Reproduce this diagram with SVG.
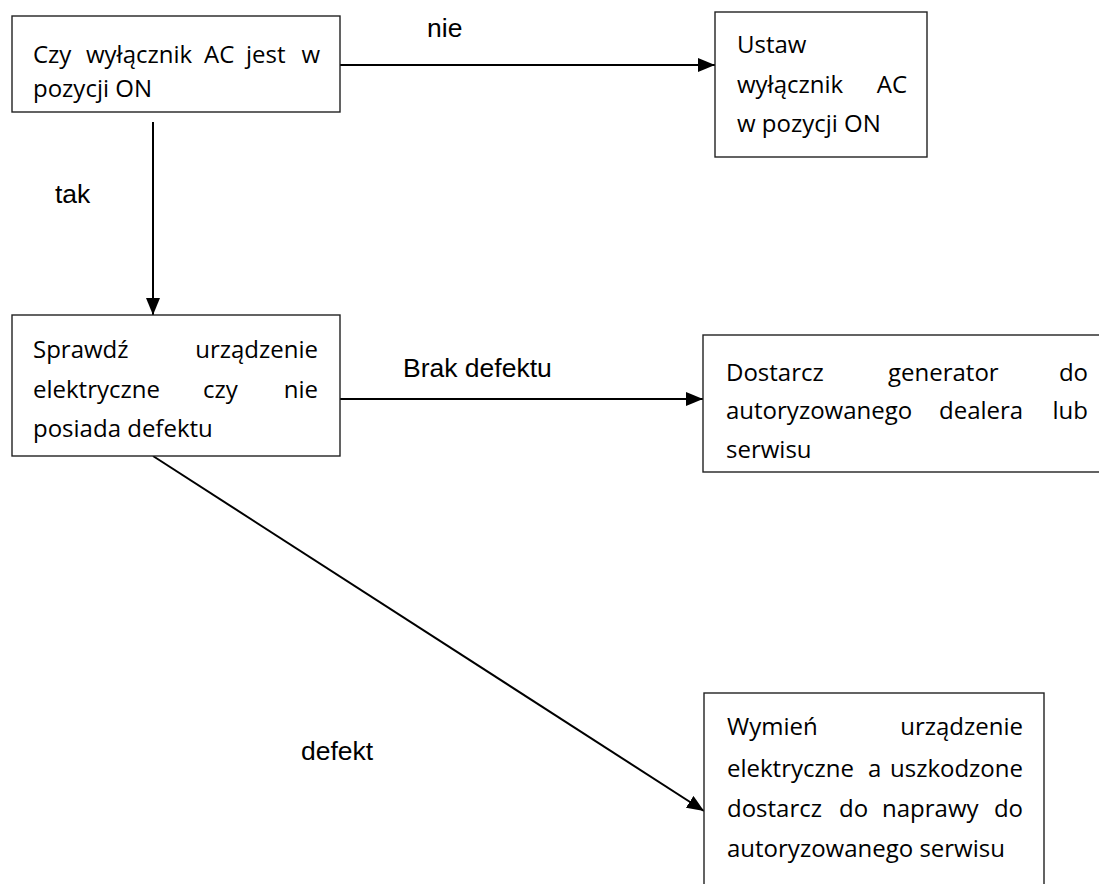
<svg xmlns="http://www.w3.org/2000/svg" width="1099" height="884" viewBox="0 0 1099 884">
<style>
.box{fill:#fff;stroke:#222;stroke-width:1.4}
.t{font-family:"Open Sans","DejaVu Sans",sans-serif;font-size:24px;fill:#000}
.e{text-anchor:end}
.lbl{font-family:"Liberation Sans",Arial,sans-serif;font-size:26.5px;fill:#000}
.c{stroke:#000;stroke-width:2;fill:none;marker-end:url(#ah)}
</style>
<defs>
<marker id="ah" markerUnits="userSpaceOnUse" markerWidth="18" markerHeight="14" refX="17" refY="7" orient="auto">
<path d="M0,0 L17,7 L0,14 Z" fill="#000"/>
</marker>
</defs>
<rect width="1099" height="884" fill="#fff"/>
<g id="connectors">
<line class="c" x1="340" y1="65" x2="715" y2="65"/>
<line class="c" x1="153" y1="122" x2="153" y2="315"/>
<line class="c" x1="340" y1="399" x2="703" y2="399"/>
<line class="c" x1="153" y1="456" x2="704" y2="811"/>
<text class="lbl" x="427" y="37">nie</text>
<text class="lbl" x="55" y="203">tak</text>
<text class="lbl" x="403" y="377">Brak defektu</text>
<text class="lbl" x="301" y="760">defekt</text>
</g>
<g id="n1">
<rect class="box" x="12" y="16" width="328" height="96"/>
<text class="t" x="33" y="63">Czy</text>
<text class="t" x="86" y="63">wyłącznik</text>
<text class="t" x="204" y="63">AC</text>
<text class="t" x="246" y="63">jest</text>
<text class="t e" x="320" y="63">w</text>
<text class="t" x="33" y="97">pozycji ON</text>
</g>
<g id="n2">
<rect class="box" x="715" y="12" width="212" height="145"/>
<text class="t" x="737" y="53">Ustaw</text>
<text class="t" x="737" y="93">wyłącznik</text>
<text class="t e" x="907" y="93">AC</text>
<text class="t" x="737" y="132">w pozycji ON</text>
</g>
<g id="n3">
<rect class="box" x="12" y="315" width="328" height="141"/>
<text class="t" x="33" y="358">Sprawdź</text>
<text class="t e" x="318" y="358">urządzenie</text>
<text class="t" x="33" y="398">elektryczne</text>
<text class="t" x="203" y="398">czy</text>
<text class="t e" x="318" y="398">nie</text>
<text class="t" x="33" y="437">posiada defektu</text>
</g>
<g id="n4">
<rect class="box" x="703" y="335" width="420" height="137"/>
<text class="t" x="726" y="381">Dostarcz</text>
<text class="t" x="888" y="381">generator</text>
<text class="t e" x="1088" y="381">do</text>
<text class="t" x="726" y="419">autoryzowanego</text>
<text class="t" x="939" y="419">dealera</text>
<text class="t e" x="1088" y="419">lub</text>
<text class="t" x="726" y="458">serwisu</text>
</g>
<g id="n5">
<rect class="box" x="704" y="693" width="340" height="220"/>
<text class="t" x="727" y="735">Wymień</text>
<text class="t e" x="1023" y="735">urządzenie</text>
<text class="t" x="727" y="777">elektryczne</text>
<text class="t" x="868" y="777">a</text>
<text class="t e" x="1023" y="777">uszkodzone</text>
<text class="t" x="727" y="817">dostarcz</text>
<text class="t" x="839" y="817">do</text>
<text class="t" x="882" y="817">naprawy</text>
<text class="t e" x="1023" y="817">do</text>
<text class="t" x="727" y="857">autoryzowanego serwisu</text>
</g>
</svg>
